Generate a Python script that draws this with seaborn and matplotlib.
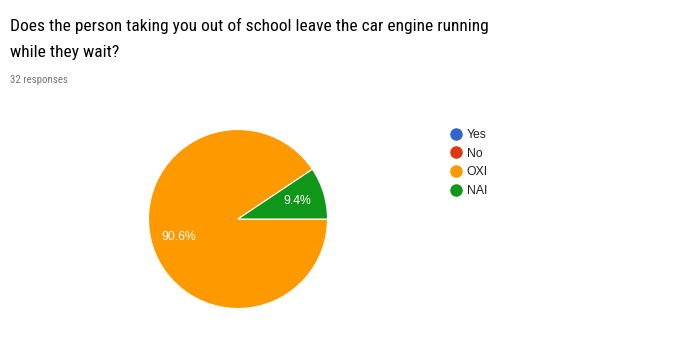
import matplotlib
matplotlib.use("Agg")
import matplotlib.pyplot as plt
from matplotlib.lines import Line2D
import seaborn as sns

categories = ["Yes", "No", "OXI", "NAI"]
counts = [0, 0, 29, 3]
colors = ["#3366cc", "#dc3912", "#ff9900", "#109618"]
title_lines = ["Does the person taking you out of school leave the car engine running",
               "while they wait?"]
subtitle = "32 responses"

sns.set_theme(style="white")
plt.rcParams["font.family"] = ["Liberation Sans", "DejaVu Sans"]

W, H = 673, 360
fig = plt.figure(figsize=(W / 100, H / 100), dpi=100)
fig.patch.set_facecolor("white")

# title and subtitle
for line, base in zip(title_lines, [31, 57]):
    fig.text(10 / W, 1 - base / H, line, fontsize=12.5, family=["Roboto Condensed", "DejaVu Sans"],
             color="#000000", ha="left", va="baseline")
fig.text(10 / W, 1 - 83 / H, subtitle, fontsize=7.8, family=["Roboto Condensed", "DejaVu Sans"],
         color="#757575", ha="left", va="baseline")

# pie
cx, cy, r = 238, 219, 89.5
ax = fig.add_axes([(cx - r) / W, (H - cy - r) / H, 2 * r / W, 2 * r / H])
wedges, texts, autotexts = ax.pie(
    counts, colors=colors, startangle=0, counterclock=False, radius=1,
    autopct=lambda p: f"{p:.1f}%" if p > 0 else "",
    pctdistance=0.69,
    wedgeprops=dict(edgecolor="white", linewidth=0.8),
    textprops=dict(color="white", fontsize=8.8),
)
ax.set_xlim(-1, 1)
ax.set_ylim(-1, 1)
ax.set_aspect("equal")
ax.axis("off")

# legend
handles = [Line2D([0], [0], marker="o", linestyle="", markersize=8,
                  markerfacecolor=c, markeredgecolor=c) for c in colors]
fig.legend(handles, categories, loc="upper left", bbox_to_anchor=(449 / W, 1 - 129 / H),
           frameon=False, fontsize=8.8, labelspacing=0.55, handletextpad=0.25,
           handlelength=1.2, borderpad=0, borderaxespad=0, labelcolor="#222222")

fig.savefig("out.png", dpi=100, facecolor="white")
